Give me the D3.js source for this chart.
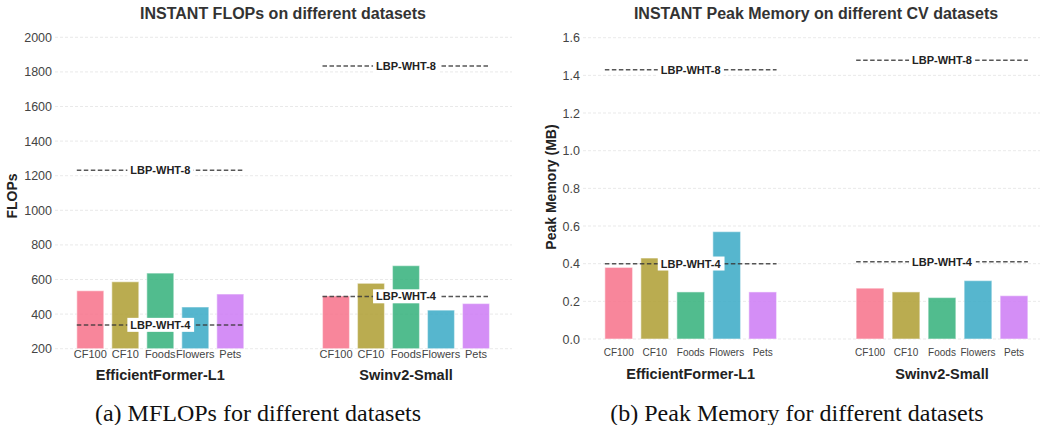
<!DOCTYPE html>
<html>
<head>
<meta charset="utf-8">
<script src="https://cdn.jsdelivr.net/npm/d3@7"></script>
<style>
  body { margin: 0; background: #fff; }
  svg { display: block; font-family: "Liberation Sans", Arial, sans-serif; }
</style>
</head>
<body>
<div id="chart"></div>
<script>
const models = ['EfficientFormer-L1', 'Swinv2-Small'];
const datasets = ['CF100', 'CF10', 'Foods', 'Flowers', 'Pets'];

const flopsEfficient = [535, 587, 637, 441, 516];
const flopsSwin = [505, 578, 680, 423, 461];
const flopsLbp4 = [337, 502];
const flopsLbp8 = [1231, 1834];
const flopsTicks = [200, 400, 600, 800, 1000, 1200, 1400, 1600, 1800, 2000];

const memEfficient = [0.38, 0.43, 0.25, 0.57, 0.25];
const memSwin = [0.27, 0.25, 0.22, 0.31, 0.23];
const memLbp4 = [0.40, 0.41];
const memLbp8 = [1.43, 1.48];
const memTicks = [0, 0.2, 0.4, 0.6, 0.8, 1.0, 1.2, 1.4, 1.6];

const palette = ['#f77189', '#ae9d31', '#33b07a', '#38a9c5', '#cc7af4'];

const width = 1040;
const height = 425;

const svg = d3.select('#chart')
  .append('svg')
  .attr('width', width)
  .attr('height', height);

function drawPanel(p) {
  const g = svg.append('g');

  const y = d3.scaleLinear().domain(p.yDomain).range(p.yRange);
  const groupX = d3.scalePoint().domain(models).range(p.groupRange).padding(0.5);
  const inner = d3.scaleBand().domain(datasets)
    .range([-p.innerHalf, p.innerHalf])
    .paddingInner(p.innerPad)
    .paddingOuter(0);
  const base = y(p.yDomain[0]);

  // grid
  g.append('g').selectAll('line')
    .data(p.ticks).enter()
    .append('line')
    .attr('x1', p.gridLeft)
    .attr('x2', p.gridRight)
    .attr('y1', d => y(d))
    .attr('y2', d => y(d))
    .attr('stroke', '#e3e3e3')
    .attr('stroke-width', 0.8)
    .attr('stroke-dasharray', '3,2');

  // y tick labels
  const yAxis = g.append('g')
    .attr('transform', `translate(${p.gridLeft},0)`)
    .call(d3.axisLeft(y).tickValues(p.ticks).tickSize(0).tickPadding(3).tickFormat(p.fmt));
  yAxis.select('.domain').remove();
  yAxis.selectAll('text')
    .attr('font-size', 12.5)
    .attr('fill', '#444')
    .attr('font-family', '"Liberation Sans", Arial, sans-serif');

  // bars
  const groups = g.selectAll('.group')
    .data(models.map((m, i) => ({ model: m, values: p.values[i], lbp4: p.lbp4[i], lbp8: p.lbp8[i] })))
    .enter()
    .append('g')
    .attr('class', 'group')
    .attr('transform', d => `translate(${groupX(d.model)},0)`);

  groups.selectAll('rect')
    .data(d => d.values.map((v, i) => ({ key: datasets[i], value: v, color: palette[i] })))
    .enter()
    .append('rect')
    .attr('x', d => inner(d.key))
    .attr('width', inner.bandwidth())
    .attr('y', d => y(d.value))
    .attr('height', d => base - y(d.value))
    .attr('fill', d => d.color)
    .attr('fill-opacity', 0.85)
    .attr('stroke', '#fff')
    .attr('stroke-opacity', 0.45)
    .attr('stroke-width', 1.2);

  // category labels
  groups.each(function() {
    const ax = d3.select(this).append('g')
      .attr('transform', `translate(0,${p.catY})`)
      .call(d3.axisBottom(inner).tickSize(0).tickPadding(0));
    ax.select('.domain').remove();
    ax.selectAll('text')
      .attr('font-size', p.catSize)
      .attr('fill', '#444')
      .attr('dy', 0)
      .attr('font-family', '"Liberation Sans", Arial, sans-serif');
  });

  // group labels
  groups.append('text')
    .attr('x', 0)
    .attr('y', p.groupLabelY)
    .attr('text-anchor', 'middle')
    .attr('font-size', 14.5)
    .attr('font-weight', 'bold')
    .attr('fill', '#222')
    .text(d => d.model);

  // reference lines
  ['lbp8', 'lbp4'].forEach(key => {
    const label = key === 'lbp8' ? 'LBP-WHT-8' : 'LBP-WHT-4';
    groups.append('line')
      .attr('x1', -p.innerHalf)
      .attr('x2', p.innerHalf)
      .attr('y1', d => y(d[key]))
      .attr('y2', d => y(d[key]))
      .attr('stroke', '#3a3a3a')
      .attr('stroke-opacity', 0.85)
      .attr('stroke-width', 1.5)
      .attr('stroke-dasharray', '4.5,2.5');
    const lab = groups.append('g')
      .attr('transform', d => `translate(0,${y(d[key])})`);
    lab.append('text')
      .attr('text-anchor', 'middle')
      .attr('dy', '0.35em')
      .attr('font-size', 11)
      .attr('font-weight', 'bold')
      .attr('fill', '#222')
      .text(label);
    lab.each(function() {
      const b = d3.select(this).select('text').node().getBBox();
      d3.select(this).insert('rect', 'text')
        .attr('x', b.x - 3)
        .attr('y', b.y - 1)
        .attr('width', b.width + 6)
        .attr('height', b.height + 2)
        .attr('fill', '#fff');
    });
  });

  // title
  svg.append('text')
    .attr('x', p.titleX)
    .attr('y', 19)
    .attr('text-anchor', 'middle')
    .attr('font-size', 16)
    .attr('font-weight', 'bold')
    .attr('fill', '#333')
    .text(p.title);

  // y label
  svg.append('text')
    .attr('transform', `translate(${p.yLabelX},${p.yLabelY}) rotate(-90)`)
    .attr('text-anchor', 'middle')
    .attr('dy', '0.35em')
    .attr('font-size', 14)
    .attr('font-weight', 'bold')
    .attr('fill', '#222')
    .text(p.yLabel);

  // caption
  svg.append('text')
    .attr('x', p.captionX)
    .attr('y', 421)
    .attr('text-anchor', 'middle')
    .attr('font-size', 24)
    .attr('font-family', '"Liberation Serif", "Times New Roman", serif')
    .attr('fill', '#111')
    .text(p.caption);
}

drawPanel({
  values: [flopsEfficient, flopsSwin],
  lbp4: flopsLbp4,
  lbp8: flopsLbp8,
  ticks: flopsTicks,
  fmt: d3.format('d'),
  yDomain: [200, 2000],
  yRange: [348.7, 37.3],
  groupRange: [37.45, 528.85],
  innerHalf: 83.5,
  innerPad: 0.2286,
  gridLeft: 55,
  gridRight: 512,
  catY: 358,
  catSize: 11,
  groupLabelY: 379.5,
  title: 'INSTANT FLOPs on different datasets',
  titleX: 283,
  yLabel: 'FLOPs',
  yLabelX: 12,
  yLabelY: 196,
  caption: '(a) MFLOPs for different datasets',
  captionX: 258
});

drawPanel({
  values: [memEfficient, memSwin],
  lbp4: memLbp4,
  lbp8: memLbp8,
  ticks: memTicks,
  fmt: d3.format('.1f'),
  yDomain: [0, 1.6],
  yRange: [339, 37.7],
  groupRange: [565.05, 1067.65],
  innerHalf: 85.85,
  innerPad: 0.23,
  gridLeft: 583,
  gridRight: 1040,
  catY: 356,
  catSize: 10,
  groupLabelY: 379,
  title: 'INSTANT Peak Memory on different CV datasets',
  titleX: 816,
  yLabel: 'Peak Memory (MB)',
  yLabelX: 551,
  yLabelY: 187,
  caption: '(b) Peak Memory for different datasets',
  captionX: 797
});
</script>
</body>
</html>
